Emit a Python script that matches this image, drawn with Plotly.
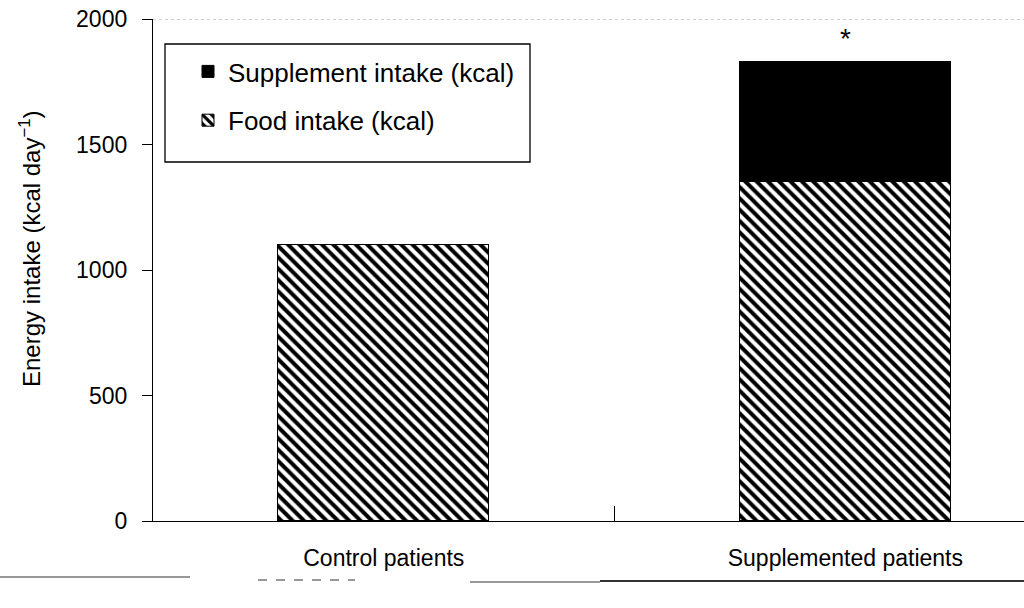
import plotly.graph_objects as go

categories = ["Control patients", "Supplemented patients"]
food_intake = [1100, 1350]
supplement_intake = [0, 480]
y_ticks = [0, 500, 1000, 1500, 2000]

FONT = "Liberation Sans"

fig = go.Figure()
fig.add_trace(go.Bar(
    x=[0, 1], y=food_intake, name="Food intake (kcal)",
    width=0.457, legendgroup="food", legendrank=2,
    marker=dict(color="white", line=dict(color="black", width=1),
                pattern=dict(shape="\\", size=8, solidity=0.5,
                             fgcolor="black", bgcolor="white", fillmode="replace")),
))
fig.add_trace(go.Bar(
    x=[0, 1], y=supplement_intake, name="Supplement intake (kcal)",
    width=0.457, legendgroup="supp", legendrank=1,
    marker=dict(color="black", line=dict(color="black", width=1)),
))

totals = [f + s for f, s in zip(food_intake, supplement_intake)]
fig.add_annotation(x=1, y=totals[1], text="*", showarrow=False,
                   yanchor="bottom", yshift=6, font=dict(size=28, color="black", family=FONT))

# y-axis title (placed slightly above the plot centre, as in the original)
fig.add_annotation(xref="paper", yref="paper", x=(30 - 153) / 871, y=1 - (249 - 19) / 502,
                   text="Energy intake (kcal day<sup>−1</sup>)", textangle=-90, showarrow=False,
                   xanchor="center", yanchor="middle", font=dict(size=24, family=FONT, color="black"))

# top dotted frame line
fig.add_shape(type="line", xref="paper", yref="y", x0=0, x1=1, y0=2000, y1=2000,
              line=dict(color="#999999", width=1, dash="dot"))

# legend box
fig.add_shape(type="rect", xref="paper", yref="paper",
              x0=(165 - 153) / 871, x1=(530 - 153) / 871,
              y0=1 - (162 - 19) / 502, y1=1 - (44 - 19) / 502,
              line=dict(color="black", width=1.3), fillcolor="white", layer="below")

# scan artifacts under the axis
for x0, x1, yy, w, d in [(0, 190, 577, 1, "solid"), (258, 355, 580, 1, "dash"),
                        (470, 600, 582, 1, "solid"), (600, 1024, 581, 2, "solid")]:
    fig.add_shape(type="line", xref="paper", yref="paper",
                  x0=(x0 - 153) / 871, x1=(x1 - 153) / 871,
                  y0=-(yy - 521) / 502, y1=-(yy - 521) / 502,
                  line=dict(color="#333333", width=w, dash=d))

fig.update_layout(
    barmode="stack",
    width=1024, height=608,
    margin=dict(l=153, r=0, t=19, b=87),
    paper_bgcolor="white", plot_bgcolor="white",
    font=dict(family=FONT, size=22, color="black"),
    showlegend=True,
    legend=dict(x=(188 - 153) / 871, y=1 - (48 - 19) / 502, xanchor="left", yanchor="top",
                traceorder="grouped", tracegroupgap=12,
                bgcolor="rgba(0,0,0,0)", borderwidth=0,
                font=dict(size=26, family=FONT, color="black")),
    bargap=0,
)
fig.update_xaxes(
    range=[-0.5, 1.387], tickvals=[0, 1],
    ticktext=categories,
    ticks="",
    minor=dict(tickmode="array", tickvals=[0.5], ticks="inside", ticklen=15,
               tickcolor="black", tickwidth=1, showgrid=False),
    showline=True, linecolor="black", linewidth=1.3,
    showgrid=False, zeroline=False, layer="below traces",
    ticklabelstandoff=16, tickfont=dict(size=23, family=FONT),
)
fig.update_yaxes(
    range=[0, 2000], tickvals=y_ticks,
    ticks="outside", ticklen=10, tickcolor="black", tickwidth=1,
    showline=True, linecolor="black", linewidth=1.3,
    showgrid=False, zeroline=False,
    ticklabelstandoff=10,
    tickfont=dict(size=23, family=FONT),
)

fig.write_html("out.html")
